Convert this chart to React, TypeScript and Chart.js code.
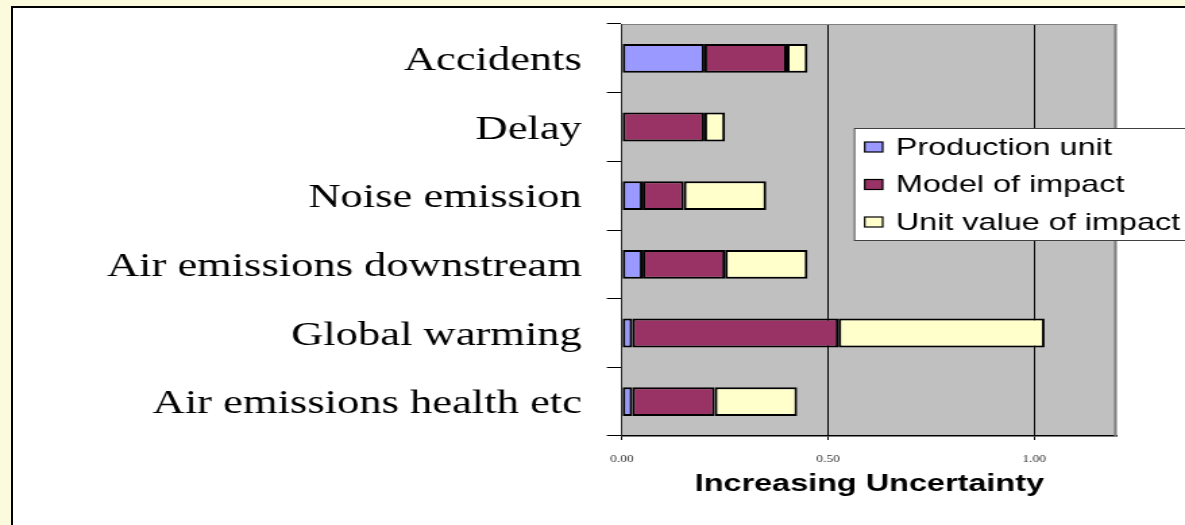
import React, { useEffect, useRef } from "react";
import { Chart, registerables } from "chart.js";

Chart.register(...registerables);

const categories = [
  "Accidents",
  "Delay",
  "Noise emission",
  "Air emissions downstream",
  "Global warming",
  "Air emissions health etc",
];
const productionUnit = [0.2, 0, 0.05, 0.05, 0.025, 0.025];
const modelOfImpact = [0.2, 0.2, 0.1, 0.2, 0.5, 0.2];
const unitValueOfImpact = [0.05, 0.05, 0.2, 0.2, 0.5, 0.2];
const seriesNames = ["Production unit", "Model of impact", "Unit value of impact"];
const seriesColors = ["#9999FF", "#993366", "#FFFFCC"];
const axisTitle = "Increasing Uncertainty";

const LOGICAL_W = 878;
const H = 525;
const PAGE_W = 1185;

const plotBgPlugin = {
  id: "plotBg",
  beforeDraw(chart: any) {
    const { ctx, chartArea } = chart;
    ctx.save();
    ctx.fillStyle = "#C0C0C0";
    ctx.fillRect(chartArea.left, chartArea.top, chartArea.right - chartArea.left, chartArea.bottom - chartArea.top);
    ctx.restore();
  },
  afterDraw(chart: any) {
    const { ctx, chartArea } = chart;
    ctx.save();
    ctx.strokeStyle = "#808080";
    ctx.lineWidth = 1;
    ctx.beginPath();
    ctx.moveTo(chartArea.left, chartArea.top + 0.5);
    ctx.lineTo(chartArea.right, chartArea.top + 0.5);
    ctx.stroke();
    ctx.lineWidth = 2;
    ctx.beginPath();
    ctx.moveTo(chartArea.right - 1, chartArea.top);
    ctx.lineTo(chartArea.right - 1, chartArea.bottom);
    ctx.stroke();

    // legend
    const boxL = 632.6;
    const boxT = 128;
    const boxH = 112;
    ctx.fillStyle = "#FFFFFF";
    ctx.fillRect(boxL, boxT, LOGICAL_W - boxL + 10, boxH);
    ctx.strokeStyle = "#404040";
    ctx.lineWidth = 1;
    ctx.strokeRect(boxL + 0.5, boxT + 0.5, LOGICAL_W - boxL + 10, boxH);
    const rows = [147, 184.5, 222];
    ctx.font = "24px 'Liberation Sans', Arial, sans-serif";
    ctx.textBaseline = "middle";
    ctx.textAlign = "left";
    chart.data.datasets.forEach((ds: any, i: number) => {
      const y = rows[i];
      ctx.fillStyle = ds.backgroundColor;
      ctx.fillRect(640.7, y - 5, 13.3, 10);
      ctx.strokeStyle = "#000";
      ctx.lineWidth = 1.2;
      ctx.strokeRect(640.7, y - 5, 13.3, 10);
      ctx.fillStyle = "#000";
      ctx.fillText(ds.label, 663.7, y + 1);
    });
    ctx.restore();
  },
};

export default function App() {
  const canvasRef = useRef<HTMLCanvasElement | null>(null);

  useEffect(() => {
    const canvas = canvasRef.current;
    if (!canvas) return;
    const values = [productionUnit, modelOfImpact, unitValueOfImpact];
    const chart = new Chart(canvas, {
      type: "bar",
      data: {
        labels: categories,
        datasets: seriesNames.map((name, i) => ({
          label: name,
          data: values[i],
          backgroundColor: seriesColors[i],
          borderColor: "#000000",
          borderWidth: 2,
          borderSkipped: false,
          barPercentage: 0.42,
          categoryPercentage: 1,
        })),
      },
      options: {
        indexAxis: "y",
        responsive: false,
        maintainAspectRatio: false,
        animation: false,
        devicePixelRatio: 1,
        layout: { padding: { left: 0, top: 24, right: LOGICAL_W - 827.4, bottom: 0 } },
        plugins: {
          legend: { display: false },
          tooltip: { enabled: false },
          title: { display: false },
        },
        scales: {
          x: {
            type: "linear",
            stacked: true,
            min: 0,
            max: 1.2,
            afterFit: (scale: any) => {
              scale.height = 89;
              scale.paddingLeft = 0;
              scale.paddingRight = 0;
            },
            ticks: {
              stepSize: 0.5,
              includeBounds: false,
              padding: 13,
              color: "#333",
              font: { family: "'Liberation Serif', 'Times New Roman', serif", size: 10 },
              callback: (v: any) => Number(v).toFixed(2),
            },
            grid: {
              color: "#000",
              lineWidth: 1,
              tickLength: 4,
              drawOnChartArea: true,
              drawTicks: true,
            },
            border: { display: true, color: "#000", width: 1.5 },
            title: {
              display: true,
              text: axisTitle,
              color: "#000",
              font: { family: "'Liberation Sans', Arial, sans-serif", size: 24, weight: "bold" },
              padding: { top: 0, bottom: 26.6 },
            },
          },
          y: {
            type: "category",
            stacked: true,
            offset: true,
            afterFit: (scale: any) => {
              scale.width = 460.8;
              scale.paddingTop = 0;
              scale.paddingBottom = 0;
            },
            ticks: {
              padding: 18.5,
              labelOffset: 3,
              color: "#000",
              font: { family: "'Liberation Serif', 'Times New Roman', serif", size: 33 },
            },
            grid: {
              offset: true,
              drawOnChartArea: false,
              drawTicks: true,
              tickLength: 11.2,
              color: "#000",
              lineWidth: 1,
            },
            border: { display: true, color: "#222", width: 1 },
          },
        },
      },
      plugins: [plotBgPlugin],
    } as any);
    return () => {
      chart.destroy();
    };
  }, []);

  return (
    <div
      style={{
        position: "fixed",
        left: 0,
        top: 0,
        width: PAGE_W,
        height: H,
        background: "#FCFADC",
        overflow: "hidden",
      }}
    >
      <div
        style={{
          position: "absolute",
          left: 11,
          top: 6,
          right: -10,
          bottom: -10,
          background: "#FFFFFF",
          borderLeft: "2px solid #000",
          borderTop: "2px solid #000",
        }}
      />
      <canvas
        ref={canvasRef}
        width={LOGICAL_W}
        height={H}
        style={{ position: "absolute", left: 0, top: 0, width: PAGE_W + "px", height: H + "px" }}
      />
    </div>
  );
}
